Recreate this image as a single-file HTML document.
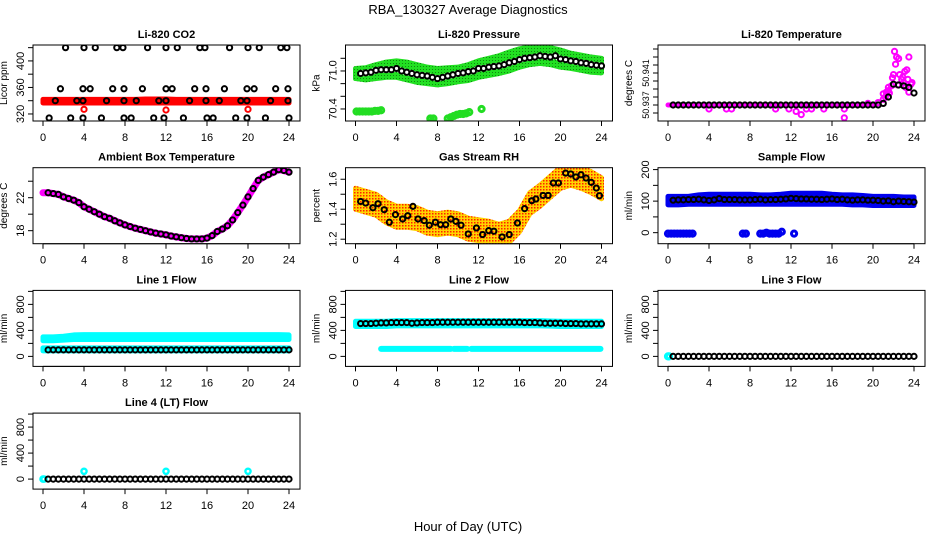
<!DOCTYPE html>
<html><head><meta charset="utf-8"><title>RBA_130327 Average Diagnostics</title>
<style>html,body{margin:0;padding:0;background:#fff}svg{display:block;font-family:"Liberation Sans",Arial,sans-serif}</style>
</head><body>
<svg id="chart" width="936" height="540" viewBox="0 0 936 540" xmlns="http://www.w3.org/2000/svg">
<defs>
<pattern id="rhdots" width="3" height="3" patternUnits="userSpaceOnUse"><rect width="3" height="3" fill="#ffd400"/><rect width="1.5" height="1.5" fill="#ff2000"/></pattern>
<pattern id="grdots" width="3" height="3" patternUnits="userSpaceOnUse"><rect width="3" height="3" fill="#22e022"/><rect width="1" height="1" fill="#118811"/></pattern>
</defs>
<rect x="0" y="0" width="936" height="540" fill="#fff"/>
<text x="468" y="14" text-anchor="middle" font-size="13">RBA_130327  Average Diagnostics</text>
<text x="468" y="531" text-anchor="middle" font-size="13">Hour of Day (UTC)</text>
</svg>
<script>
// ---- data ----
const hourTicks=[0,4,8,12,16,20,24];
const hourly=[0,1,2,3,4,5,6,7,8,9,10,11,12,13,14,15,16,17,18,19,20,21,22,23,24];
const halfHours=[];for(let i=1;i<=48;i++)halfHours.push(i*0.5);

const co2BlackX=[2.2,4.0,5.1,7.2,7.8,10.2,12.0,13.1,15.3,15.8,18.2,20.0,21.1,23.2,23.8, 1.7,3.9,4.6,6.8,7.9,9.7,12.0,12.6,14.8,15.9,17.7,19.9,20.6,22.7,23.9, 1.2,3.3,3.9,6.2,7.9,9.1,11.3,12.0,14.3,15.9,17.2,19.3,19.9,22.2,23.9, 0.6,2.7,3.9,5.7,7.9,8.6,10.8,11.8,13.7,16.0,16.6,18.8,19.9,21.7,24.0];
const co2BlackY=[420,420,420,420,420,420,420,420,420,420,420,420,420,420,420, 358,358,358,358,358,358,358,358,358,358,358,358,358,358,358, 340,340,340,340,340,340,340,340,340,340,340,340,340,340,340, 314,314,314,314,314,314,314,314,314,314,314,314,314,314,314];
const co2RedLo=[336.5,336.5,336.5,336.5,336.5,336.5,336.5,336.5,336.5,336.5,336.5,336.5,336.5,336.5,336.5,336.5,336.5,336.5,336.5,336.5,336.5,336.5,336.5,336.5,336.5];
const co2RedHi=[342,342,342,342,342,342,342,342,342,342,342.5,342.5,342.5,342,342,342,342,342,342,342,342,342,342,342,342];
const co2RedX=[4,12,20];
const co2RedY=[327,326,327];

const presBlack=[70.96,70.97,70.98,71.01,71.02,71.02,71.02,71.04,71.0,70.98,70.96,70.94,70.93,70.92,70.9,70.88,70.9,70.92,70.94,70.96,70.97,70.99,71.0,71.04,71.04,71.06,71.07,71.08,71.1,71.13,71.15,71.18,71.2,71.21,71.22,71.24,71.23,71.22,71.24,71.19,71.18,71.16,71.15,71.13,71.12,71.1,71.09,71.08];
const presGreenHi=[71.04,71.05,71.1,71.14,71.16,71.14,71.1,71.06,71.04,71.05,71.06,71.1,71.16,71.2,71.24,71.3,71.35,71.38,71.38,71.37,71.33,71.28,71.25,71.22,71.2];
const presGreenLo=[70.88,70.86,70.88,70.9,70.9,70.86,70.82,70.8,70.78,70.8,70.83,70.85,70.9,70.93,70.96,71.0,71.06,71.1,71.12,71.1,71.06,71.04,71.01,70.98,70.97];
const presLowX=[0.1,0.4,0.7,1.0,1.3,1.6,1.9,2.2,2.5,7.3,7.6,9.0,9.3,9.6,9.9,10.2,10.5,10.8,11.1,12.3];
const presLowY=[70.36,70.36,70.36,70.36,70.36,70.36,70.37,70.37,70.38,70.25,70.25,70.25,70.27,70.29,70.31,70.32,70.32,70.33,70.35,70.4];

const tempBlack=[50.937,50.937,50.937,50.937,50.937,50.937,50.937,50.937,50.937,50.937,50.937,50.937,50.937,50.937,50.937,50.937,50.937,50.937,50.937,50.937,50.937,50.937,50.937,50.937,50.937,50.937,50.937,50.937,50.937,50.937,50.937,50.937,50.937,50.937,50.937,50.937,50.937,50.937,50.937,50.937,50.937,50.9372,50.938,50.9396,50.9395,50.9394,50.9392,50.9385];
const tempMagX=[4,5.7,6.2,10.5,11.8,12.5,13,13.5,14,15.2,17.2,17.2,19.5,20.5,21,21,21.2,21.5,21.5,21.8,21.9,22,22.1,22.2,22.3,22.5,22.6,22.8,23,23.1,23.3,23.4,23.5,23.5,23.7,23.8,23.2,22.4,21.6,21.3,22.9];
const tempMagY=[50.9365,50.9365,50.9365,50.9365,50.9365,50.9362,50.9358,50.9365,50.9365,50.9365,50.9354,50.9365,50.9372,50.9373,50.9377,50.9384,50.938,50.9392,50.9388,50.9394,50.9404,50.9408,50.9437,50.9421,50.943,50.9428,50.9408,50.9402,50.9398,50.9412,50.9414,50.9402,50.9386,50.943,50.9396,50.9398,50.9392,50.9395,50.9385,50.9386,50.9405];

const ambBlack=[22.6,22.5,22.4,22.1,21.9,21.7,21.4,20.9,20.6,20.3,20.0,19.7,19.5,19.2,18.95,18.7,18.5,18.3,18.15,18.0,17.85,17.7,17.6,17.5,17.35,17.25,17.15,17.05,17.0,17.0,17.0,17.1,17.4,17.9,18.2,18.6,19.3,20.2,21.1,22.1,23.1,24.1,24.5,24.8,25.1,25.4,25.3,25.1];

const rhX=[0.5,1,1.7,2.2,2.8,3.3,3.9,4.6,5.1,5.6,6.1,6.7,7.2,7.8,8.3,8.8,9.3,9.8,10.3,11,11.8,12.4,13,13.5,14.3,15,15.8,16.5,17.2,17.6,18.3,18.8,19.3,19.8,20.5,21,21.5,22,22.5,23,23.5,23.8];
const rhY=[1.452,1.441,1.41,1.437,1.397,1.313,1.364,1.335,1.357,1.419,1.335,1.324,1.293,1.313,1.297,1.297,1.335,1.319,1.293,1.235,1.275,1.231,1.257,1.253,1.215,1.231,1.308,1.404,1.457,1.468,1.492,1.492,1.575,1.575,1.641,1.635,1.615,1.63,1.608,1.579,1.541,1.49];
const rhBandLo=[1.40,1.38,1.36,1.31,1.28,1.28,1.27,1.24,1.23,1.24,1.23,1.20,1.19,1.18,1.17,1.18,1.25,1.37,1.42,1.48,1.54,1.56,1.54,1.51,1.47];
const rhBandHi=[1.54,1.52,1.50,1.45,1.42,1.42,1.41,1.38,1.37,1.38,1.37,1.34,1.33,1.32,1.30,1.32,1.39,1.51,1.56,1.62,1.68,1.70,1.68,1.65,1.61];

const sampBlack=[103,104,104,105,105,106,104,102,104,108,105,105,105,104,104,104,105,106,104,105,105,106,107,109,108,107,107,106,106,105,106,107,105,106,104,103,104,104,103,103,102,100,101,98,100,99,98,97];
const sampBlueLo=[88,88,90,90,90,90,90,90,90,90,90,90,90,90,90,90,90,90,88,88,86,86,86,86,86];
const sampBlueHi=[115,115,115,120,122,122,122,122,122,120,120,122,125,125,125,125,122,120,120,118,115,115,115,113,113];
const sampLowX=[0,0.3,0.6,0.9,1.2,1.5,1.8,2.1,2.4,7.3,7.6,9,9.3,9.6,9.9,10.2,10.5,10.8,11.1,12.3];
const sampLowY=[-3,-3,-3,-3,-3,-3,-3,-3,-3,-3,-3,-3,-3,0,-3,-3,-3,-3,3,-3];

const l1Black=[100,100,100,100,100,100,100,100,100,100,100,100,100,100,100,100,100,100,100,100,100,100,100,100,100,100,100,100,100,100,100,100,100,100,100,100,100,100,100,100,100,100,100,100,100,100,100,100];
const l1CyanLo=[240,240,250,260,260,260,260,260,260,260,260,260,260,260,260,260,260,260,260,260,260,260,260,260,260];
const l1CyanHi=[300,300,310,330,335,335,335,335,335,335,335,335,335,335,335,335,335,335,335,335,335,335,335,335,330];
const l1Cyan2Lo=[85,85,85,85,85,85,85,85,85,85,85,85,85,85,85,85,85,85,85,85,85,85,85,85,85];
const l1Cyan2Hi=[130,130,130,130,130,130,130,130,130,130,130,130,130,130,130,130,130,130,130,130,130,130,130,130,130];

const l2Black=[505,505,505,510,515,515,520,520,520,520,510,515,520,520,520,525,525,525,525,525,525,525,525,525,525,525,525,525,525,525,525,525,520,520,520,515,510,510,510,510,505,505,505,500,500,500,500,500];
const l2CyanLo=[460,460,460,460,470,470,470,470,470,470,470,470,470,470,470,470,470,470,470,465,460,460,460,460,460];
const l2CyanHi=[540,540,540,540,550,550,550,550,550,550,550,550,550,550,550,550,550,550,550,545,540,540,540,540,540];
const l2LowStart=[2.5,9.6,11.3];
const l2LowEnd=[9.3,10.9,23.9];
const l2LowVal=[115,115,115];

const l3Black=[0,0,0,0,0,0,0,0,0,0,0,0,0,0,0,0,0,0,0,0,0,0,0,0,0,0,0,0,0,0,0,0,0,0,0,0,0,0,0,0,0,0,0,0,0,0,0,0];
const l3CyanX=[0,0.1];
const l3CyanY=[0,0];
const l4Black=[0,0,0,0,0,0,0,0,0,0,0,0,0,0,0,0,0,0,0,0,0,0,0,0,0,0,0,0,0,0,0,0,0,0,0,0,0,0,0,0,0,0,0,0,0,0,0,0];
const l4CyanX=[0,0.1,4,12,20];
const l4CyanY=[0,0,120,120,120];

// ---- drawing ----
const svg=document.getElementById('chart');
const NS='http://www.w3.org/2000/svg';
function mk(tag,attrs,parent){const e=document.createElementNS(NS,tag);for(const k in attrs)e.setAttribute(k,attrs[k]);(parent||svg).appendChild(e);return e;}

function panel(c,r,name,title,ylab,ymin,ymax,ticks,labels,tfs){
  const L=33+312.5*c,T=45+122.7*r,W=267,H=76;
  const g=mk('g',{});
  
  
  const x=h=>L+10+h*246/24;
  const y=v=>T+H-(v-ymin)/(ymax-ymin)*H;
  const t=mk('text',{x:L+W/2,y:T-7,'text-anchor':'middle','font-size':11,'font-weight':'bold'},g);
  t.textContent=title;
  
  
  const yl=mk('text',{x:0,y:0,'text-anchor':'middle','font-size':10,transform:`translate(${L-26},${T+H/2}) rotate(-90)`},g);
  yl.textContent=ylab;
  
  
  const xa=mk('g',{},g);
  
  
  mk('line',{x1:x(0),x2:x(24),y1:T+H,y2:T+H,stroke:'#000'},xa);
  hourTicks.forEach(h=>{
    mk('line',{x1:x(h),x2:x(h),y1:T+H,y2:T+H+5,stroke:'#000'},xa);
    const tl=mk('text',{x:x(h),y:T+H+20,'text-anchor':'middle','font-size':11},xa);
    tl.textContent=h;
  });
  const ya=mk('g',{},g);
  
  
  ticks.forEach((v,i)=>{
    mk('line',{x1:L-5,x2:L,y1:y(v),y2:y(v),stroke:'#000'},ya);
    if(labels[i]!==''){
      const tl=mk('text',{x:0,y:0,'text-anchor':'middle','font-size':tfs||11,transform:`translate(${L-9},${y(v)}) rotate(-90)`},ya);
      tl.textContent=labels[i];
    }
  });
  const plot=mk('g',{},g);
  const cp='clip'+c+r;
  const cl=mk('clipPath',{id:cp},g);mk('rect',{x:L,y:T,width:W,height:H},cl);
  plot.setAttribute('clip-path',`url(#${cp})`);
  
  
  const box=mk('rect',{x:L,y:T,width:W,height:H,fill:'none',stroke:'#000'},g);
  
  
  return {x,y,g:plot};
}
function band(p,xs,lo,hi,color,name){
  let d='M';xs.forEach((h,i)=>{d+=p.x(h)+','+p.y(hi[i])+' L';});
  for(let i=xs.length-1;i>=0;i--){d+=p.x(xs[i])+','+p.y(lo[i])+(i?' L':' Z');}
  const e=mk('path',{d:d,fill:color,stroke:color,'stroke-width':5,'stroke-linejoin':'round'},p.g);
  
  
}
function pts(p,xs,ys,color,name,r,sw){
  const g=mk('g',{fill:'none',stroke:color,'stroke-width':sw||2},p.g);
  
  
  xs.forEach((h,i)=>{mk('circle',{cx:p.x(h),cy:p.y(ys[i]),r:r||2.6},g);});
}
function line(p,xs,ys,color,w,name){
  const e=mk('polyline',{points:xs.map((h,i)=>p.x(h)+','+p.y(ys[i])).join(' '),fill:'none',stroke:color,'stroke-width':w,'stroke-linecap':'round','stroke-linejoin':'round'},p.g);
  
  
}

// CO2
let p=panel(0,0,'co2','Li-820 CO2','Licor ppm',309.4,424,[320,340,360,380,400,420],['320','','360','','400','']);
band(p,hourly,co2RedLo,co2RedHi,'#ff0000','co2-red-band');
pts(p,co2RedX,co2RedY,'#ff0000','co2-red-points');
pts(p,co2BlackX,co2BlackY,'#000','co2-hourly-points');

// Pressure
p=panel(1,0,'pressure','Li-820 Pressure','kPa',70.21,71.41,[70.4,70.6,70.8,71.0,71.2],['70.4','','','71.0','']);
band(p,hourly,presGreenLo,presGreenHi,'url(#grdots)','pressure-green-band');
line(p,halfHours,presBlack,'#ffffff',6,'pressure-gap');
pts(p,presLowX,presLowY,'#22dd22','pressure-low-points',2.6,3);
pts(p,halfHours,presBlack,'#000','pressure-average-points');

// Temperature
p=panel(2,0,'temperature','Li-820 Temperature','degrees C',50.935,50.9445,[50.936,50.937,50.938,50.939,50.940,50.941,50.942,50.943,50.944],['','50.937','','','','50.941','','',''],9);
line(p,[0,20.3],[50.937,50.937],'#ff00ff',5,'temperature-magenta-trace');
pts(p,tempMagX,tempMagY,'#ff00ff','temperature-magenta-points');
pts(p,halfHours,tempBlack,'#000','temperature-average-points');

// Ambient
p=panel(0,1,'ambient','Ambient Box Temperature','degrees C',16.42,25.64,[18,20,22,24],['18','','22','']);
line(p,[0].concat(halfHours),[22.6].concat(ambBlack),'#ff00ff',7,'ambient-magenta-trace');
pts(p,halfHours,ambBlack,'#000','ambient-average-points');

// RH
p=panel(1,1,'rh','Gas Stream RH','percent',1.17,1.677,[1.2,1.3,1.4,1.5,1.6],['1.2','','1.4','','1.6']);
band(p,hourly,rhBandLo,rhBandHi,'url(#rhdots)','rh-yellow-band');
pts(p,rhX,rhY,'#000','rh-average-points');

// Sample flow
p=panel(2,1,'sample-flow','Sample Flow','ml/min',-35,206,[0,50,100,150,200],['0','','100','','200']);
band(p,hourly,sampBlueLo,sampBlueHi,'#0000ee','sample-flow-blue-band');
pts(p,sampLowX,sampLowY,'#0000ee','sample-flow-low-points',2.6,3);
pts(p,halfHours,sampBlack,'#000','sample-flow-average-points');

const flowTicks=[0,200,400,600,800,1000];
const flowLabels=['0','','400','','800',''];
// Line 1
p=panel(0,2,'line1-flow','Line 1 Flow','ml/min',-154,1015,flowTicks,flowLabels);
band(p,hourly,l1CyanLo,l1CyanHi,'#00ffff','line1-cyan-band');
band(p,hourly,l1Cyan2Lo,l1Cyan2Hi,'#00ffff','line1-cyan-low-band');
pts(p,halfHours,l1Black,'#000','line1-average-points');

// Line 2
p=panel(1,2,'line2-flow','Line 2 Flow','ml/min',-154,1015,flowTicks,flowLabels);
band(p,hourly,l2CyanLo,l2CyanHi,'#00ffff','line2-cyan-band');
l2LowStart.forEach((s,i)=>{line(p,[s,l2LowEnd[i]],[l2LowVal[i],l2LowVal[i]],'#00ffff',6,'line2-cyan-low-segment');});
pts(p,halfHours,l2Black,'#000','line2-average-points');

// Line 3
p=panel(2,2,'line3-flow','Line 3 Flow','ml/min',-154,1015,flowTicks,flowLabels);
pts(p,l3CyanX,l3CyanY,'#00ffff','line3-cyan-points',2.6,3);
pts(p,halfHours,l3Black,'#000','line3-average-points');

// Line 4
p=panel(0,3,'line4-flow','Line 4 (LT) Flow','ml/min',-154,1015,flowTicks,flowLabels);
pts(p,l4CyanX,l4CyanY,'#00ffff','line4-cyan-points',2.6,2.4);
pts(p,halfHours,l4Black,'#000','line4-average-points');
</script>
</body></html>
